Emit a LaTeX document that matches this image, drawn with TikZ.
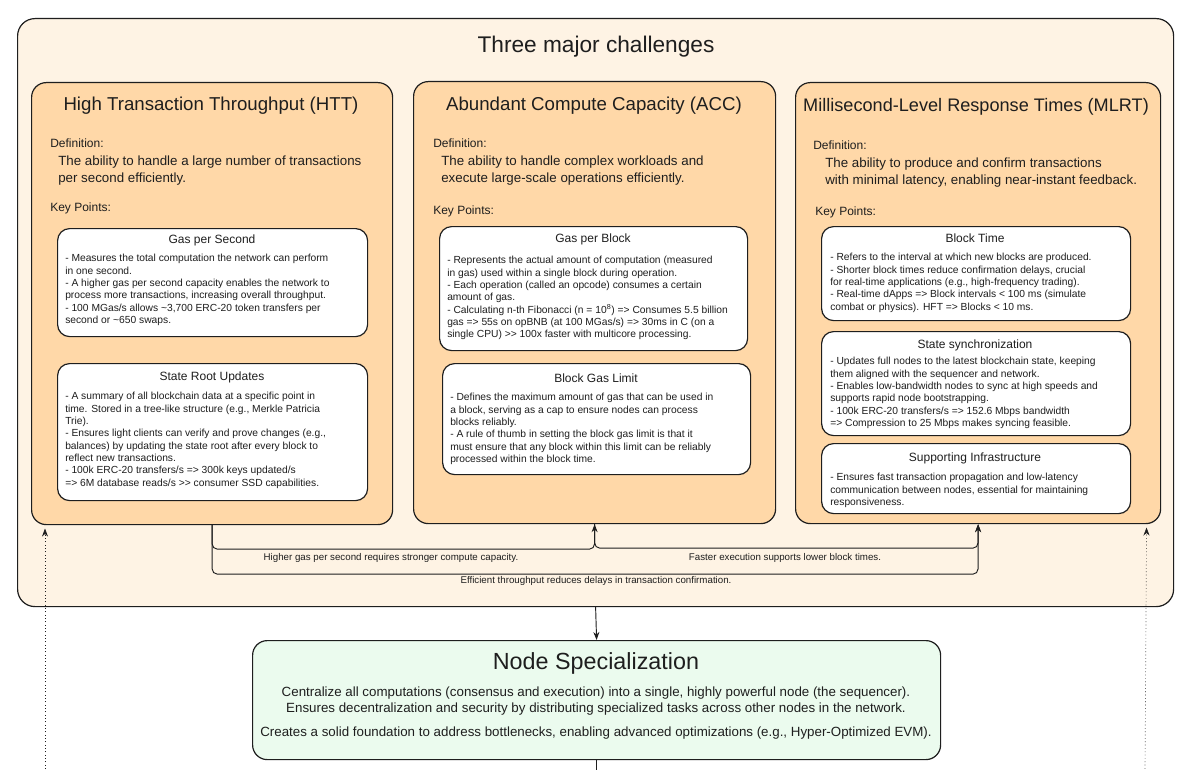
\documentclass[tikz,border=0pt]{standalone}
\usepackage{fontspec}
\setmainfont{Liberation Sans}
\usetikzlibrary{arrows.meta}
\definecolor{strokec}{HTML}{1E1E1E}
\definecolor{outerfill}{HTML}{FEF3E4}
\definecolor{colfill}{HTML}{FFD8A8}
\definecolor{greenfill}{HTML}{EBFBEE}
\newcommand\gtgt{>\kern0pt>}
\begin{document}
\begin{tikzpicture}[x=0.75pt,y=-0.75pt,
  boxbase/.style={draw=strokec, line width=0.9pt, inner sep=0pt, anchor=north west},
  outerbox/.style={boxbase, fill=outerfill, rounded corners=13pt},
  colbox/.style={boxbase, fill=colfill, rounded corners=11pt},
  whitebox/.style={boxbase, fill=white, rounded corners=9pt},
  greenbox/.style={boxbase, fill=greenfill, rounded corners=11pt},
  bigtitle/.style={font=\fontsize{17}{20}\selectfont, text=strokec, inner sep=0pt},
  coltitle/.style={font=\fontsize{14}{17}\selectfont, text=strokec, inner sep=0pt},
  lbl/.style={font=\fontsize{9}{11}\selectfont, text=strokec, inner sep=0pt, anchor=west},
  deftext/.style={font=\fontsize{10}{12.6}\selectfont, text=strokec, inner sep=0pt, anchor=north west, align=left},
  wtitle/.style={font=\fontsize{9}{11}\selectfont, text=strokec, inner sep=0pt},
  body/.style={font=\fontsize{7.7}{9.25}\selectfont, text=strokec, inner sep=0pt, anchor=north west, align=left},
  conlbl/.style={font=\fontsize{7.3}{9}\selectfont, text=strokec, inner sep=0pt},
  nsbody/.style={font=\fontsize{10}{12}\selectfont, text=strokec, inner sep=0pt, align=center},
  conn/.style={draw=strokec, line width=0.7pt, rounded corners=4pt, -{Stealth[length=6pt,width=4.5pt]}},
  dotconn/.style={draw=strokec, line width=0.5pt, dotted, -{Stealth[length=6pt,width=4.5pt]}},
]
\useasboundingbox (0,0) rectangle (1191,770);
\fill[white] (0,0) rectangle (1191,770);

% outer container
\node[outerbox, minimum width=1156*0.75pt, minimum height=588*0.75pt] (outer) at (17,18) {};
\node[bigtitle] (maintitle) at (596,47) {Three major challenges};

% columns
\node[colbox, minimum width=361*0.75pt, minimum height=442*0.75pt] (htt) at (31,82) {};
\node[colbox, minimum width=362*0.75pt, minimum height=442*0.75pt] (acc) at (413,81) {};
\node[colbox, minimum width=365*0.75pt, minimum height=441*0.75pt] (mlrt) at (795,82) {};

% column titles
\node[coltitle] (htttitle) at (211,106) {High Transaction Throughput (HTT)};
\node[coltitle] (acctitle) at (594,106) {Abundant Compute Capacity (ACC)};
\node[coltitle, font=\fontsize{13.6}{17}\selectfont] (mlrttitle) at (976,107) {Millisecond-Level Response Times (MLRT)};

% definitions
\node[lbl] (httdefl) at (50,143) {Definition:};
\node[deftext] (httdef) at (58,156) {The ability to handle a large number of transactions\\per second efficiently.};
\node[lbl] (httkp) at (50,208) {Key Points:};

\node[lbl] (accdefl) at (433,143) {Definition:};
\node[deftext] (accdef) at (441,156) {The ability to handle complex workloads and\\execute large-scale operations efficiently.};
\node[lbl] (acckp) at (433,211) {Key Points:};

\node[lbl] (mlrtdefl) at (813,145) {Definition:};
\node[deftext] (mlrtdef) at (825,158) {The ability to produce and confirm transactions\\with minimal latency, enabling near-instant feedback.};
\node[lbl] (mlrtkp) at (815,212) {Key Points:};

% white boxes
\node[whitebox, minimum width=310*0.75pt, minimum height=108*0.75pt] (gps) at (57,228) {};
\node[whitebox, minimum width=310*0.75pt, minimum height=137*0.75pt] (sru) at (57,363) {};
\node[whitebox, minimum width=308*0.75pt, minimum height=124*0.75pt] (gpb) at (439,226) {};
\node[whitebox, minimum width=308*0.75pt, minimum height=111*0.75pt] (bgl) at (442,363) {};
\node[whitebox, minimum width=309*0.75pt, minimum height=94*0.75pt] (bt) at (821,226) {};
\node[whitebox, minimum width=309*0.75pt, minimum height=104*0.75pt] (ss) at (821,331) {};
\node[whitebox, minimum width=309*0.75pt, minimum height=70*0.75pt] (si) at (821,443) {};

% white box titles
\node[wtitle] (gpst) at (212,240) {Gas per Second};
\node[wtitle] (srut) at (212,377) {State Root Updates};
\node[wtitle] (gpbt) at (593,239) {Gas per Block};
\node[wtitle] (bglt) at (596,378) {Block Gas Limit};
\node[wtitle] (btt) at (975,238) {Block Time};
\node[wtitle] (sst) at (975,345) {State synchronization};
\node[wtitle] (sit) at (975,458) {Supporting Infrastructure};

% bodies
\node[body] (gpsb) at (65,254) {- Measures the total computation the network can perform\\
in one second.\\
- A higher gas per second capacity enables the network to\\
process more transactions, increasing overall throughput.\\
- 100 MGas/s allows \textasciitilde 3,700 ERC-20 token transfers per\\
second or \textasciitilde 650 swaps.};

\node[body] (srub) at (65,392) {- A summary of all blockchain data at a specific point in\\
time. Stored in a tree-like structure (e.g., Merkle Patricia\\
Trie).\\
- Ensures light clients can verify and prove changes (e.g.,\\
balances) by updating the state root after every block to\\
reflect new transactions.\\
- 100k ERC-20 transfers/s => 300k keys updated/s\\
=> 6M database reads/s \gtgt{} consumer SSD capabilities.};

\node[body] (gpbb) at (447,256) {- Represents the actual amount of computation (measured\\
in gas) used within a single block during operation.\\
- Each operation (called an opcode) consumes a certain\\
amount of gas.\\
- Calculating n-th Fibonacci (n = 10\textsuperscript{8}) => Consumes 5.5 billion\\
gas => 55s on opBNB (at 100 MGas/s) => 30ms in C (on a\\
single CPU) \gtgt{} 100x faster with multicore processing.};

\node[body] (bglb) at (450,393) {- Defines the maximum amount of gas that can be used in\\
a block, serving as a cap to ensure nodes can process\\
blocks reliably.\\
- A rule of thumb in setting the block gas limit is that it\\
must ensure that any block within this limit can be reliably\\
processed within the block time.};

\node[body] (btb) at (830,253) {- Refers to the interval at which new blocks are produced.\\
- Shorter block times reduce confirmation delays, crucial\\
for real-time applications (e.g., high-frequency trading).\\
- Real-time dApps => Block intervals < 100 ms (simulate\\
combat or physics). HFT => Blocks < 10 ms.};

\node[body] (ssb) at (830,357) {- Updates full nodes to the latest blockchain state, keeping\\
them aligned with the sequencer and network.\\
- Enables low-bandwidth nodes to sync at high speeds and\\
supports rapid node bootstrapping.\\
- 100k ERC-20 transfers/s => 152.6 Mbps bandwidth\\
=> Compression to 25 Mbps makes syncing feasible.};

\node[body] (sib) at (830,473) {- Ensures fast transaction propagation and low-latency\\
communication between nodes, essential for maintaining\\
responsiveness.};

% connectors between columns
\draw[conn] (htt.south) -- ++(0,24) -| (acc.south);
\draw[conn] (acc.south) -- ++(0,24) -| (mlrt.south);
\draw[conn] (htt.south) -- ++(0,49) -| (mlrt.south);
\node[conlbl] (c1) at (391,558) {Higher gas per second requires stronger compute capacity.};
\node[conlbl] (c2) at (785,558) {Faster execution supports lower block times.};
\node[conlbl] (c3) at (596,581) {Efficient throughput reduces delays in transaction confirmation.};

% dotted arrows from below
\coordinate (dl) at (45,772);
\coordinate (dr) at (1145,772);
\draw[dotconn] (dl) -- ([xshift=10.5pt,yshift=-2.5pt]htt.south west);
\draw[dotconn] (dr) -- ([xshift=-11pt,yshift=-2.5pt]mlrt.south east);

% node specialization
\node[greenbox, minimum width=688*0.75pt, minimum height=119*0.75pt] (ns) at (252,640) {};
\node[bigtitle, font=\fontsize{17.5}{21}\selectfont] (nstitle) at (596,663) {Node Specialization};
\node[nsbody] (nsb1) at (596,701) {Centralize all computations (consensus and execution) into a single, highly powerful node (the sequencer).\\
Ensures decentralization and security by distributing specialized tasks across other nodes in the network.};
\node[nsbody] (nsb2) at (596,733) {Creates a solid foundation to address bottlenecks, enabling advanced optimizations (e.g., Hyper-Optimized EVM).};

\draw[conn] (outer.south) -- (ns.north);
\coordinate (nsout) at (ns.south |- 0,772);
\draw[draw=strokec, line width=0.7pt] (ns.south) -- (nsout);
\end{tikzpicture}
\end{document}
